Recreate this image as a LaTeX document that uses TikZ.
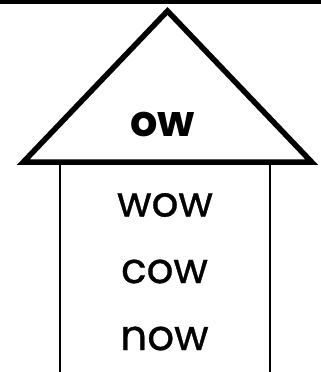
\documentclass[tikz,border=0pt]{standalone}
\usepackage{fontspec}
\setmainfont{Poppins}
\newfontfamily\wordfont[FakeBold=0.8]{Poppins}
\begin{document}
\begin{tikzpicture}[x=1pt,y=-1pt,
  roof/.style={draw=black,line width=5.5pt,line join=miter,fill=white},
  wall/.style={draw=black,line width=2.6pt},
  word/.style={inner sep=0pt,font=\wordfont\fontsize{42}{42}\selectfont},
  bigword/.style={inner sep=0pt,font=\fontsize{43}{43}\selectfont\bfseries}]
\useasboundingbox (0,0) rectangle (321,372);
\fill[black] (0,0) rectangle (321,4.3);
\coordinate (bl) at (60,162);
\coordinate (br) at (270,162);
\coordinate (bl2) at (60,375);
\coordinate (br2) at (270,375);
\draw[wall] (bl) -- (bl2);
\draw[wall] (br) -- (br2);
\coordinate (apex) at (167.5,11);
\coordinate (left) at (23.4,162);
\coordinate (right) at (311.6,162);
\draw[roof] (apex) -- (right) -- (left) -- cycle;
\node[bigword] (ow) at (162.5,124.5) {ow};
\node[word] (wow) at (165,205) {wow};
\node[word] (cow) at (164.5,271.5) {cow};
\node[word] (now) at (164.5,338.5) {now};
\end{tikzpicture}
\end{document}
